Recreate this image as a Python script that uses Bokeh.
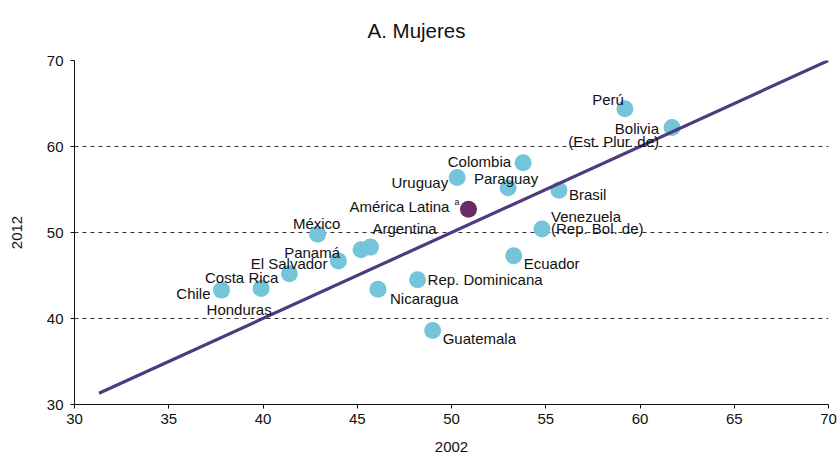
from bokeh.plotting import figure
from bokeh.models import ColumnDataSource, Range1d, FixedTicker
from bokeh.embed import file_html
from bokeh.resources import INLINE
from bokeh.core.properties import value

# ---------------- data ----------------
title_text = "A. Mujeres"
countries = ["Perú", "Bolivia\n(Est. Plur. de)", "Colombia", "Uruguay", "Paraguay",
             "Brasil", "Venezuela\n(Rep. Bol. de)", "México", "Argentina", "Panamá",
             "El Salvador", "Ecuador", "Costa Rica", "Rep. Dominicana", "Chile",
             "Honduras", "Nicaragua", "Guatemala"]
x2002 = [59.2, 61.7, 53.8, 50.3, 53.0, 55.7, 54.8, 42.9, 45.7, 45.2,
         44.0, 53.3, 41.4, 48.2, 37.8, 39.9, 46.1, 49.0]
y2012 = [64.4, 62.2, 58.1, 56.4, 55.2, 54.9, 50.4, 49.8, 48.3, 48.0,
         46.7, 47.3, 45.2, 44.5, 43.3, 43.5, 43.4, 38.6]
region_name = ["América Latina"]
region_note = ["a"]
region_x = [50.9]
region_y = [52.7]
diag = [31.3, 70.0]
x_ticks = [30, 35, 40, 45, 50, 55, 60, 65, 70]
y_ticks = [30, 40, 50, 60, 70]

# ---------------- layout of the labels (align, dx px, dy px of first baseline) --------
label_pos = {
    "Perú": ("right", -1, -9),
    "Bolivia\n(Est. Plur. de)": ("right", -13, 1),
    "Colombia": ("right", -12, -1),
    "Uruguay": ("right", -9, 5),
    "Paraguay": ("center", -2, -9),
    "Brasil": ("left", 10, 4),
    "Venezuela\n(Rep. Bol. de)": ("left", 9, -13),
    "México": ("center", -1, -11),
    "Argentina": ("left", 2, -19),
    "Panamá": ("right", -21, 3),
    "El Salvador": ("right", -11, 3),
    "Ecuador": ("left", 10, 8),
    "Costa Rica": ("right", -11, 4),
    "Rep. Dominicana": ("left", 10, 0),
    "Chile": ("right", -11, 3),
    "Honduras": ("center", -22, 21),
    "Nicaragua": ("left", 12, 9),
    "Guatemala": ("left", 10, 8),
}
LINE_H = 12.7
FONT = "Liberation Sans"
LBL_SIZE = "15px"

p = figure(width=837, height=454, x_range=Range1d(30, 70), y_range=Range1d(30, 70),
           output_backend="svg", toolbar_location=None,
           min_border_left=74, min_border_right=9, min_border_top=60, min_border_bottom=50)
p.outline_line_color = None
p.background_fill_color = "white"

# title
p.title.text = title_text
p.title.text_font = FONT
p.title.text_font_size = "20.5px"
p.title.text_font_style = "normal"
p.title.text_color = "#111111"
p.title.align = "left"
p.title.offset = 293
p.title.vertical_align = "top"
p.title.standoff = 34

# axes
for ax in (p.xaxis[0], p.yaxis[0]):
    ax.axis_line_color = "#111111"
    ax.axis_line_width = 1
    ax.major_tick_in = 0
    ax.major_tick_out = 4
    ax.minor_tick_line_color = None
    ax.major_tick_line_color = "#111111"
    ax.major_label_text_font = FONT
    ax.major_label_text_font_size = "15px"
    ax.major_label_text_color = "#111111"
    ax.axis_label_text_font = FONT
    ax.axis_label_text_font_size = "15px"
    ax.axis_label_text_font_style = "normal"
    ax.axis_label_text_color = "#111111"
p.xaxis.ticker = FixedTicker(ticks=x_ticks)
p.yaxis.ticker = FixedTicker(ticks=y_ticks)
p.xaxis.major_label_standoff = 5
p.yaxis.major_label_standoff = 7
p.xaxis.axis_label = "2002"
p.yaxis.axis_label = "2012"
p.xaxis.axis_label_standoff = 15
p.yaxis.axis_label_standoff = 22

p.xgrid.visible = False
p.ygrid.ticker = FixedTicker(ticks=y_ticks[1:])
p.ygrid.grid_line_color = "#333333"
p.ygrid.grid_line_dash = "4 4"
p.ygrid.grid_line_width = 1

# points
src = ColumnDataSource(dict(x=x2002, y=y2012, name=countries))
p.scatter("x", "y", source=src, size=17, fill_color="#74C5DA", line_color=None)
rsrc = ColumnDataSource(dict(x=region_x, y=region_y, name=region_name))
p.scatter("x", "y", source=rsrc, size=17, fill_color="#6B2A68", line_color=None)

# diagonal
p.line(diag, diag, line_color="#4F3A80", line_width=3.2)

# labels
groups = {}
for name, xv, yv in zip(countries, x2002, y2012):
    align, dx, dy = label_pos[name]
    g = groups.setdefault(align, dict(x=[], y=[], t=[], dx=[], dy=[]))
    for i, line in enumerate(name.split("\n")):
        g["x"].append(xv); g["y"].append(yv); g["t"].append(line)
        g["dx"].append(dx); g["dy"].append(dy + i * LINE_H)
# region label
g = groups.setdefault("right", dict(x=[], y=[], t=[], dx=[], dy=[]))
g["x"].append(region_x[0]); g["y"].append(region_y[0]); g["t"].append(region_name[0])
g["dx"].append(-19); g["dy"].append(-3)

for align, g in groups.items():
    s = ColumnDataSource(g)
    p.text("x", "y", text="t", x_offset="dx", y_offset="dy", source=s,
           text_align=align, text_baseline="alphabetic",
           text_font=value(FONT), text_font_size=LBL_SIZE, text_color="#111111")

# footnote marker on region label
ns = ColumnDataSource(dict(x=region_x, y=region_y, t=region_note))
p.text("x", "y", text="t", x_offset=-14, y_offset=-7, source=ns,
       text_align="left", text_baseline="alphabetic",
       text_font=value(FONT), text_font_size="9px", text_color="#111111")

open("out.html", "w").write(file_html(p, INLINE))
